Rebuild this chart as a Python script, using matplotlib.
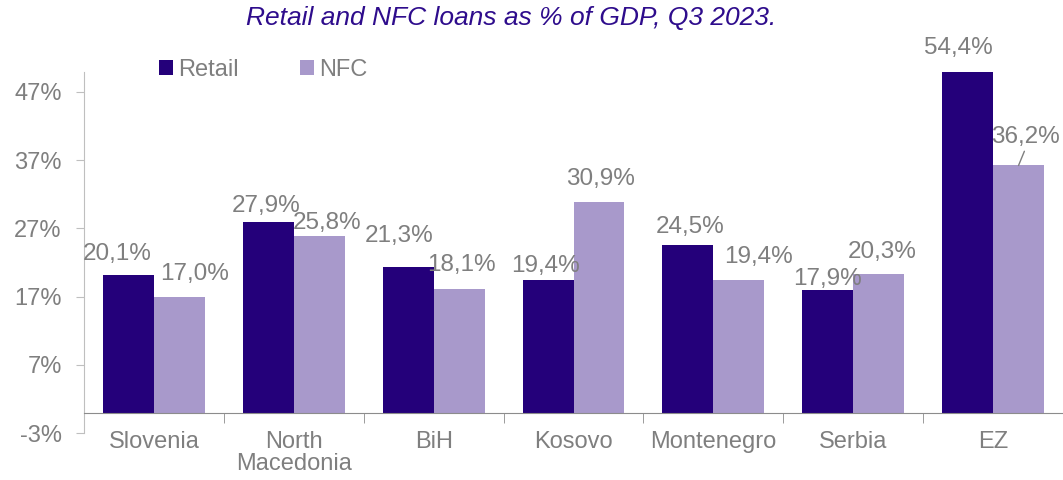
import matplotlib
matplotlib.use("Agg")
import matplotlib.pyplot as plt
import numpy as np

# ---- data ----
categories = ["Slovenia", "North\nMacedonia", "BiH", "Kosovo", "Montenegro", "Serbia", "EZ"]
retail = [20.1, 27.9, 21.3, 19.4, 24.5, 17.9, 54.4]
nfc = [17.0, 25.8, 18.1, 30.9, 19.4, 20.3, 36.2]
yticks = [-3, 7, 17, 27, 37, 47]
title = "Retail and NFC loans as % of GDP, Q3 2023."

# ---- label offsets (pixels, relative to bar top) ----
retail_off = [(-11, 15), (-2.5, 10), (-9, 25), (-3, 8), (2.5, 12), (0, 5), (-9.5, -13)]
nfc_off = [(15.5, 17), (8, 7), (2, 18), (2, 17), (19.5, 17), (3.5, 16), (7, 22)]

# ---- style ----
C_RET = "#24007A"
C_NFC = "#A899CB"
C_TXT = "#7F7F7F"
C_TITLE = "#2E0C8C"
FONT = "Liberation Sans"
plt.rcParams["font.family"] = [FONT, "DejaVu Sans"]

fig = plt.figure(figsize=(10.63, 4.8), dpi=100)
ax = fig.add_axes([84 / 1063, 1 - 433 / 480, 979 / 1063, (433 - 72) / 480])

x = np.arange(len(categories))
w = 0.364
ymax = 49.9
b1 = ax.bar(x - w / 2, retail, w, color=C_RET, label="Retail", zorder=2)
b2 = ax.bar(x + w / 2, nfc, w, color=C_NFC, label="NFC", zorder=2)

ax.set_xlim(-0.5, len(categories) - 0.5)
ax.set_ylim(-3, ymax)

def fmt(v):
    return f"{v:.1f}%".replace(".", ",")

for i, v in enumerate(retail):
    dx, dy = retail_off[i]
    ax.annotate(fmt(v), xy=(x[i] - w / 2, v), xytext=(dx, dy), textcoords="offset pixels",
                ha="center", va="baseline", fontsize=17.5, color=C_TXT, annotation_clip=False)
for i, v in enumerate(nfc):
    dx, dy = nfc_off[i]
    kw = {}
    if i == len(nfc) - 1:
        kw["arrowprops"] = dict(arrowstyle="-", color=C_TXT, lw=1, shrinkA=0, shrinkB=0,
                                relpos=(0.5, 0))
    ax.annotate(fmt(v), xy=(x[i] + w / 2, v), xytext=(dx, dy), textcoords="offset pixels",
                ha="center", va="baseline", fontsize=17.5, color=C_TXT,
                annotation_clip=False, **kw)

# axes styling
for s in ["top", "right"]:
    ax.spines[s].set_visible(False)
ax.spines["bottom"].set_position(("data", 0))
ax.spines["bottom"].set_color("#8C8C8C")
ax.spines["left"].set_color("#BFBFBF")
ax.spines["left"].set_bounds(-3, ymax)

ax.set_yticks(yticks)
ax.set_yticklabels([f"{t}%" for t in yticks])
ax.tick_params(axis="y", length=6, color="#BFBFBF", labelcolor=C_TXT, labelsize=17, pad=10)

ax.set_xticks(x)
ax.set_xticklabels(categories)
ax.set_xticks(np.arange(len(categories) + 1) - 0.5, minor=True)
ax.tick_params(axis="x", which="major", length=0, labelcolor=C_TXT, labelsize=17, pad=13)
ax.tick_params(axis="x", which="minor", length=7, color="#8C8C8C")
for lab in ax.get_xticklabels():
    lab.set_linespacing(1.0)

fig.text(511 / 1063, 1 - 18 / 480, title, ha="center", va="center", fontsize=19,
         style="italic", color=C_TITLE)

leg = ax.legend(handles=[b1, b2], loc="upper left", bbox_to_anchor=(159 / 1063, 1 - 59 / 480),
                bbox_transform=fig.transFigure, ncol=2, frameon=False, fontsize=17,
                handlelength=0.6, handleheight=0.6, handletextpad=0.2, columnspacing=2.6,
                borderpad=0, borderaxespad=0)
for t in leg.get_texts():
    t.set_color(C_TXT)

fig.savefig("out.png", dpi=100)
